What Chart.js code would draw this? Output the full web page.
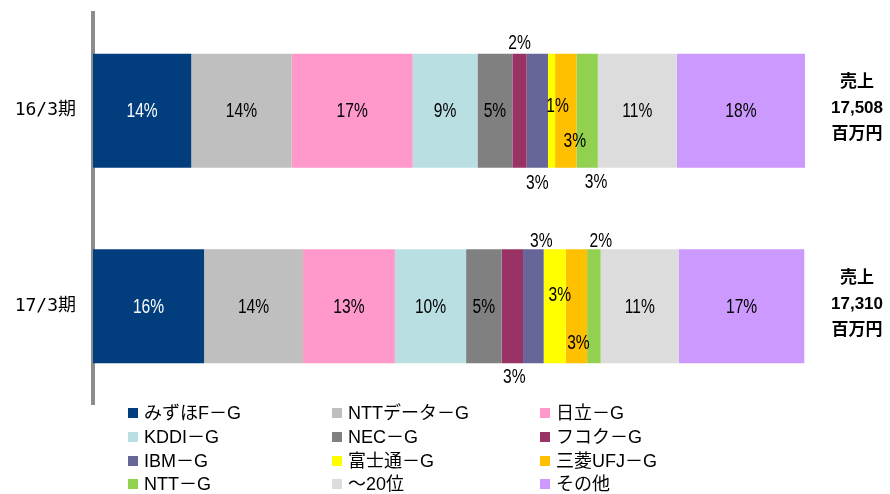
<!DOCTYPE html>
<html>
<head>
<meta charset="utf-8">
<script src="https://cdn.jsdelivr.net/npm/chart.js@4"></script>
<style>
  html, body { margin: 0; padding: 0; background: #fff; }
  #wrap { width: 890px; height: 494px; position: relative; }
</style>
</head>
<body>
<div id="wrap"><canvas id="grafico" width="890" height="494"></canvas></div>
<script>
const periodos = ['16/3期', '17/3期'];
const vendas = ['17,508', '17,310'];
const empresas = ['みずほF－G', 'NTTデータ－G', '日立－G', 'KDDI－G', 'NEC－G', 'フコク－G',
  'IBM－G', '富士通－G', '三菱UFJ－G', 'NTT－G', '～20位', 'その他'];
const share16 = [13.8, 14.1, 17.0, 9.1, 4.9, 2.0, 3.0, 1.0, 3.0, 3.0, 11.1, 18.0];
const share17 = [15.6, 13.9, 12.9, 10.0, 5.0, 3.0, 2.9, 3.1, 3.0, 1.9, 11.0, 17.6];
const rotulos16 = [14, 14, 17, 9, 5, 2, 3, 1, 3, 3, 11, 18];
const rotulos17 = [16, 14, 13, 10, 5, 3, 3, 3, 3, 2, 11, 17];

const cores = ['#023e7d', '#bfbfbf', '#ff99cc', '#b9dfe2', '#808080', '#993366',
  '#666699', '#ffff00', '#ffc000', '#92d050', '#dcdcdc', '#cc99ff'];

// deslocamento dos rotulos pequenos (dx, dy) em relacao ao centro do segmento
const desloc = [
  { 5: [0, -68], 6: [0, 72], 7: [6, -5], 8: [9, 30], 9: [9, 71] },
  { 5: [2, 70], 6: [8, -66], 7: [5, -12], 8: [2, 36], 9: [7, -66] }
];

const fonteRotulo = '20px "Liberation Sans", sans-serif';
const fonteJp = '"Noto Sans CJK JP", "DejaVu Sans", sans-serif';
const fonteLeg = '18px "Liberation Sans", "Noto Sans CJK JP", sans-serif';
const fonteCat = '18px "DejaVu Sans Mono", "Noto Sans CJK JP", monospace';
const fonteVenda = 'bold 17px "Liberation Sans", "Noto Sans CJK JP", sans-serif';

const rotulosPlugin = {
  id: 'rotulos',
  afterDatasetsDraw(chart) {
    const ctx = chart.ctx;
    const rots = [rotulos16, rotulos17];
    ctx.save();
    ctx.font = fonteRotulo;
    ctx.textAlign = 'center';
    ctx.textBaseline = 'middle';
    chart.data.datasets.forEach((ds, i) => {
      const meta = chart.getDatasetMeta(i);
      meta.data.forEach((bar, j) => {
        const d = desloc[j][i] || [0, 0];
        const cx = (bar.x + bar.base) / 2 + d[0];
        const cy = bar.y + d[1];
        ctx.fillStyle = i === 0 ? '#fff' : '#000';
        // fonte estreita: comprime na horizontal
        ctx.save();
        ctx.translate(cx, cy + 1);
        ctx.scale(0.78, 1);
        ctx.fillText(rots[j][i] + '%', 0, 0);
        ctx.restore();
      });
    });
    ctx.restore();
  }
};

const extrasPlugin = {
  id: 'extras',
  afterDraw(chart) {
    const ctx = chart.ctx;
    const y = chart.scales.y;
    ctx.save();
    ctx.textBaseline = 'middle';
    periodos.forEach((p, i) => {
      const cy = y.getPixelForValue(i);
      // rotulo da categoria
      ctx.font = fonteCat;
      ctx.fillStyle = '#000';
      ctx.textAlign = 'right';
      ctx.fillText(p, 76, cy);
      // vendas a direita
      ctx.font = fonteVenda;
      ctx.textAlign = 'center';
      ctx.fillText('売上', 857, cy - 28);
      ctx.fillText(vendas[i], 857, cy - 2);
      ctx.fillText('百万円', 857, cy + 24);
    });
    // legenda em 3 colunas
    const colX = [128, 332, 540];
    const linY = [413, 437, 461, 484];
    ctx.font = fonteLeg;
    ctx.textAlign = 'left';
    empresas.forEach((nome, k) => {
      const x = colX[k % 3];
      const ly = linY[Math.floor(k / 3)];
      ctx.fillStyle = cores[k];
      ctx.fillRect(x, ly - 5, 10, 10);
      ctx.fillStyle = '#000';
      ctx.fillText(nome, x + 16, ly + 1);
    });
    ctx.restore();
  }
};

const datasets = empresas.map((nome, k) => ({
  label: nome,
  data: [share16[k], share17[k]],
  backgroundColor: cores[k],
  borderWidth: 0,
  barPercentage: 0.583,
  categoryPercentage: 1
}));

new Chart(document.getElementById('grafico').getContext('2d'), {
  type: 'bar',
  data: { labels: periodos, datasets: datasets },
  options: {
    indexAxis: 'y',
    responsive: false,
    animation: false,
    layout: { padding: { left: 0, right: 85, top: 13, bottom: 90 } },
    plugins: { legend: { display: false }, tooltip: { enabled: false } },
    scales: {
      x: { stacked: true, min: 0, max: 100, display: false },
      y: {
        stacked: true,
        z: 1,
        grid: { display: false, drawTicks: false },
        border: { display: true, color: '#8c8c8c', width: 4 },
        ticks: { display: false },
        afterFit: s => { s.width = 93; }
      }
    }
  },
  plugins: [rotulosPlugin, extrasPlugin]
});
</script>
</body>
</html>
